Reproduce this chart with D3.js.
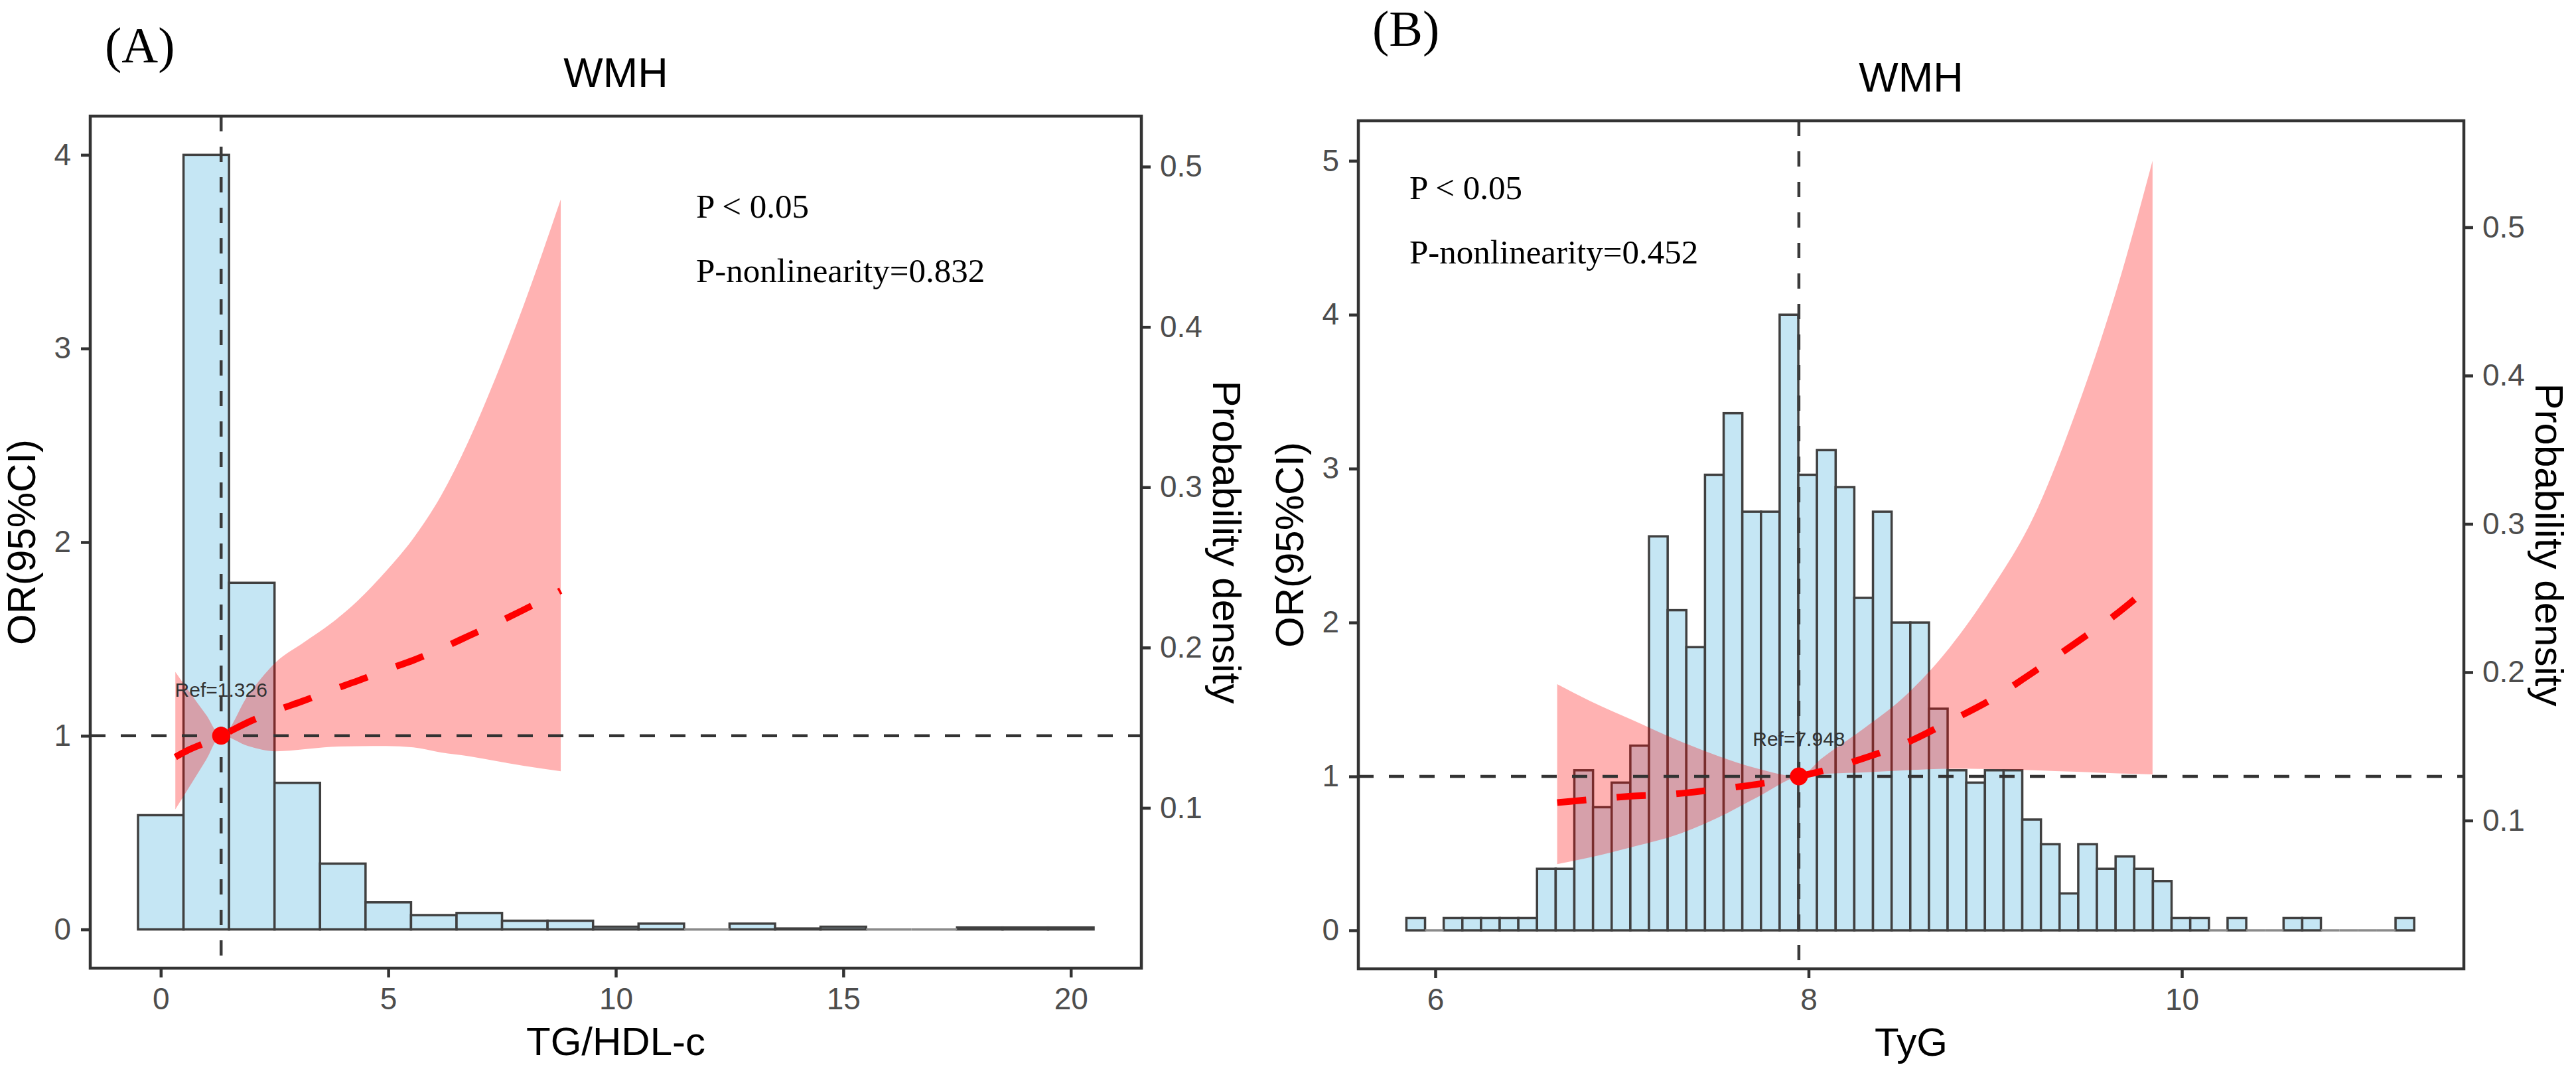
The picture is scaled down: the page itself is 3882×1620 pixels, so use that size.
<!DOCTYPE html>
<html><head><meta charset="utf-8">
<script src="https://cdn.jsdelivr.net/npm/d3@7/dist/d3.min.js"></script>
<style>html,body{margin:0;padding:0;background:#fff;} svg{display:block;}</style>
</head><body>
<svg id="chart" width="3882" height="1620"></svg>
<script>
// ---------------- data ----------------
const panelTags = ["(A)", "(B)"];
const panelTitles = ["WMH", "WMH"];
const xTitles = ["TG/HDL-c", "TyG"];
const yTitleLeft = "OR(95%CI)";
const yTitleRight = "Probability density";
const pTexts = ["P < 0.05", "P < 0.05"];
const nonlinTexts = ["P-nonlinearity=0.832", "P-nonlinearity=0.452"];
const refValues = [1.326, 7.948];
const refLabels = ["Ref=1.326", "Ref=7.948"];

// Panel A (TG/HDL-c)
const aXTicks = [0, 5, 10, 15, 20];
const aYTicks = [0, 1, 2, 3, 4];
const aDensTicks = [0.1, 0.2, 0.3, 0.4, 0.5];
const aBinStart = -0.5, aBinWidth = 1;
const aHist = [0.59, 4.0, 1.79, 0.757, 0.34, 0.14, 0.074, 0.085, 0.045, 0.045, 0.014,
               0.03, 0, 0.03, 0.005, 0.014, 0, 0, 0.01, 0.01, 0.01];
const aX  = [0.32, 0.62, 1.0, 1.326, 1.92, 2.53, 3.13, 3.74, 4.34, 4.95, 5.55, 6.16, 6.76, 7.36, 7.97, 8.79];
const aOR = [0.89, 0.928, 0.965, 1.0, 1.07, 1.13, 1.18, 1.235, 1.285, 1.34, 1.39, 1.45, 1.515, 1.58, 1.65, 1.75];
const aLo = [0.62, 0.733, 0.877, 1.0, 0.947, 0.92, 0.93, 0.943, 0.946, 0.947, 0.94, 0.914, 0.895, 0.87, 0.845, 0.817];
const aHi = [1.33, 1.23, 1.107, 1.0, 1.21, 1.38, 1.48, 1.58, 1.70, 1.85, 2.02, 2.24, 2.52, 2.85, 3.22, 3.77];

// Panel B (TyG)
const bXTicks = [6, 8, 10];
const bYTicks = [0, 1, 2, 3, 4, 5];
const bDensTicks = [0.1, 0.2, 0.3, 0.4, 0.5];
const bBinStart = 5.845, bBinWidth = 0.1;
const bHist = [0.08, 0, 0.08, 0.08, 0.08, 0.08, 0.08, 0.40, 0.40, 1.04,
               0.80, 0.96, 1.20, 2.56, 2.08, 1.84, 2.96, 3.36, 2.72, 2.72,
               4.00, 2.96, 3.12, 2.88, 2.16, 2.72, 2.00, 2.00, 1.44, 1.04,
               0.96, 1.04, 1.04, 0.72, 0.56, 0.24, 0.56, 0.40, 0.48, 0.40,
               0.32, 0.08, 0.08, 0, 0.08, 0, 0, 0.08, 0.08, 0,
               0, 0, 0, 0.08];
const bX  = [6.653, 6.83, 7.05, 7.28, 7.51, 7.73, 7.948, 8.073, 8.30, 8.527, 8.755, 8.98, 9.207, 9.434, 9.66, 9.843];
const bOR = [0.83, 0.85, 0.872, 0.886, 0.917, 0.95, 1.0, 1.035, 1.12, 1.22, 1.357, 1.50, 1.68, 1.87, 2.065, 2.25];
const bLo = [0.43, 0.474, 0.54, 0.615, 0.73, 0.868, 1.0, 1.015, 1.026, 1.04, 1.05, 1.048, 1.04, 1.03, 1.02, 1.013];
const bHi = [1.60, 1.49, 1.37, 1.245, 1.135, 1.05, 1.0, 1.12, 1.315, 1.534, 1.836, 2.22, 2.69, 3.375, 4.20, 5.0];

// ---------------- layout ----------------
const panels = [
  { frame: {l: 136, r: 1720, t: 175, b: 1459}, xDom: [-1.55, 21.55], yDom: [-0.2, 4.2], dDom: [0, 0.5315],
    xTicks: aXTicks, yTicks: aYTicks, dTicks: aDensTicks, binStart: aBinStart, binW: aBinWidth, hist: aHist,
    cx: aX, cor: aOR, clo: aLo, chi: aHi, tag: {x: 158, y: 94}, ptext: {dx: 913, dy: 153} },
  { frame: {l: 2047, r: 3713, t: 182, b: 1460}, xDom: [5.5876, 11.511], yDom: [-0.25, 5.26], dDom: [0, 0.5718],
    xTicks: bXTicks, yTicks: bYTicks, dTicks: bDensTicks, binStart: bBinStart, binW: bBinWidth, hist: bHist,
    cx: bX, cor: bOR, clo: bLo, chi: bHi, tag: {x: 2068, y: 69}, ptext: {dx: 77, dy: 118} }
];

const svg = d3.select("#chart");
const SANS = "'Liberation Sans', Arial, sans-serif";
const SERIF = "'Liberation Serif', 'Times New Roman', serif";

panels.forEach((p, i) => {
  const f = p.frame;
  const x = d3.scaleLinear().domain(p.xDom).range([f.l, f.r]);
  const y = d3.scaleLinear().domain(p.yDom).range([f.b, f.t]);
  const yd = d3.scaleLinear().domain(p.dDom).range([f.b, f.t]);
  const g = svg.append("g");

  // histogram
  const bins = p.hist.map((h, k) => ({x0: p.binStart + k * p.binW, x1: p.binStart + (k + 1) * p.binW, h}));
  g.append("g").selectAll("rect").data(bins.filter(d => d.h > 0)).join("rect")
    .attr("x", d => x(d.x0)).attr("width", d => x(d.x1) - x(d.x0))
    .attr("y", d => y(d.h)).attr("height", d => y(0) - y(d.h))
    .attr("fill", "#c5e6f4").attr("stroke", "#404040").attr("stroke-width", 3.5);
  // empty bins: outline collapses to a line on the baseline
  g.append("g").selectAll("line").data(bins.filter(d => d.h === 0)).join("line")
    .attr("x1", d => x(d.x0)).attr("x2", d => x(d.x1)).attr("y1", y(0)).attr("y2", y(0))
    .attr("stroke", "#8a8a8a").attr("stroke-width", 3.5);

  const curve = p.cx.map((v, k) => ({x: v, or: p.cor[k], lo: p.clo[k], hi: p.chi[k]}));

  // ribbon
  g.append("path").datum(curve)
    .attr("d", d3.area().x(d => x(d.x)).y0(d => y(d.lo)).y1(d => y(d.hi)).curve(d3.curveMonotoneX))
    .attr("fill", "#ff0000").attr("fill-opacity", 0.3);

  // reference lines
  g.append("line").attr("x1", f.l).attr("x2", f.r).attr("y1", y(1)).attr("y2", y(1))
    .attr("stroke", "#333").attr("stroke-width", 4.5).attr("stroke-dasharray", "23 23");
  g.append("line").attr("x1", x(refValues[i])).attr("x2", x(refValues[i])).attr("y1", f.t).attr("y2", f.b)
    .attr("stroke", "#3a3a3a").attr("stroke-width", 4.5).attr("stroke-dasharray", "23 23");

  // OR curve
  g.append("path").datum(curve)
    .attr("d", d3.line().x(d => x(d.x)).y(d => y(d.or)).curve(d3.curveMonotoneX))
    .attr("fill", "none").attr("stroke", "#ff0000").attr("stroke-width", 10)
    .attr("stroke-dasharray", "44 46").attr("stroke-linecap", "butt");

  // ref point
  g.append("circle").attr("cx", x(refValues[i])).attr("cy", y(1)).attr("r", 13.5).attr("fill", "#ff0000");

  g.append("text").attr("x", x(refValues[i])).attr("y", y(1.2)).attr("text-anchor", "middle")
    .attr("font-family", SANS).attr("font-size", 30).attr("fill", "#333").text(refLabels[i]);

  // axes
  const styleAxis = sel => {
    sel.select(".domain").remove();
    sel.selectAll(".tick line").attr("stroke", "#333").attr("stroke-width", 4.5);
    sel.selectAll(".tick text").attr("font-family", SANS).attr("font-size", 46).attr("fill", "#4d4d4d");
  };
  g.append("g").attr("transform", `translate(${f.l},0)`)
    .call(d3.axisLeft(y).tickValues(p.yTicks).tickFormat(d3.format("d")).tickSize(14).tickPadding(15)).call(styleAxis);
  g.append("g").attr("transform", `translate(${f.r},0)`)
    .call(d3.axisRight(yd).tickValues(p.dTicks).tickFormat(d3.format(".1f")).tickSize(14).tickPadding(14)).call(styleAxis);
  g.append("g").attr("transform", `translate(0,${f.b})`)
    .call(d3.axisBottom(x).tickValues(p.xTicks).tickFormat(d3.format("d")).tickSize(14).tickPadding(15)).call(styleAxis);

  // frame
  g.append("rect").attr("x", f.l).attr("y", f.t).attr("width", f.r - f.l).attr("height", f.b - f.t)
    .attr("fill", "none").attr("stroke", "#333").attr("stroke-width", 4.5);

  // titles
  const cxm = (f.l + f.r) / 2, cym = (f.t + f.b) / 2;
  g.append("text").attr("x", cxm).attr("y", f.t - 44).attr("text-anchor", "middle")
    .attr("font-family", SANS).attr("font-size", 63).attr("fill", "#000").text(panelTitles[i]);
  g.append("text").attr("x", cxm).attr("y", f.b + 131).attr("text-anchor", "middle")
    .attr("font-family", SANS).attr("font-size", 60).attr("fill", "#000").text(xTitles[i]);
  g.append("text").attr("transform", `translate(${f.l - 83},${cym}) rotate(-90)`).attr("text-anchor", "middle")
    .attr("font-family", SANS).attr("font-size", 60).attr("fill", "#000").text(yTitleLeft);
  g.append("text").attr("transform", `translate(${f.r + 108},${cym}) rotate(90)`).attr("text-anchor", "middle")
    .attr("font-family", SANS).attr("font-size", 60).attr("fill", "#000").text(yTitleRight);

  // P annotations
  g.append("text").attr("x", f.l + p.ptext.dx).attr("y", f.t + p.ptext.dy)
    .attr("font-family", SERIF).attr("font-size", 51).attr("fill", "#000").text(pTexts[i]);
  g.append("text").attr("x", f.l + p.ptext.dx).attr("y", f.t + p.ptext.dy + 97)
    .attr("font-family", SERIF).attr("font-size", 51).attr("fill", "#000").text(nonlinTexts[i]);

  // panel tag
  svg.append("text").attr("x", p.tag.x).attr("y", p.tag.y)
    .attr("font-family", SERIF).attr("font-size", 76).attr("fill", "#000").text(panelTags[i]);
});
</script>
</body></html>
